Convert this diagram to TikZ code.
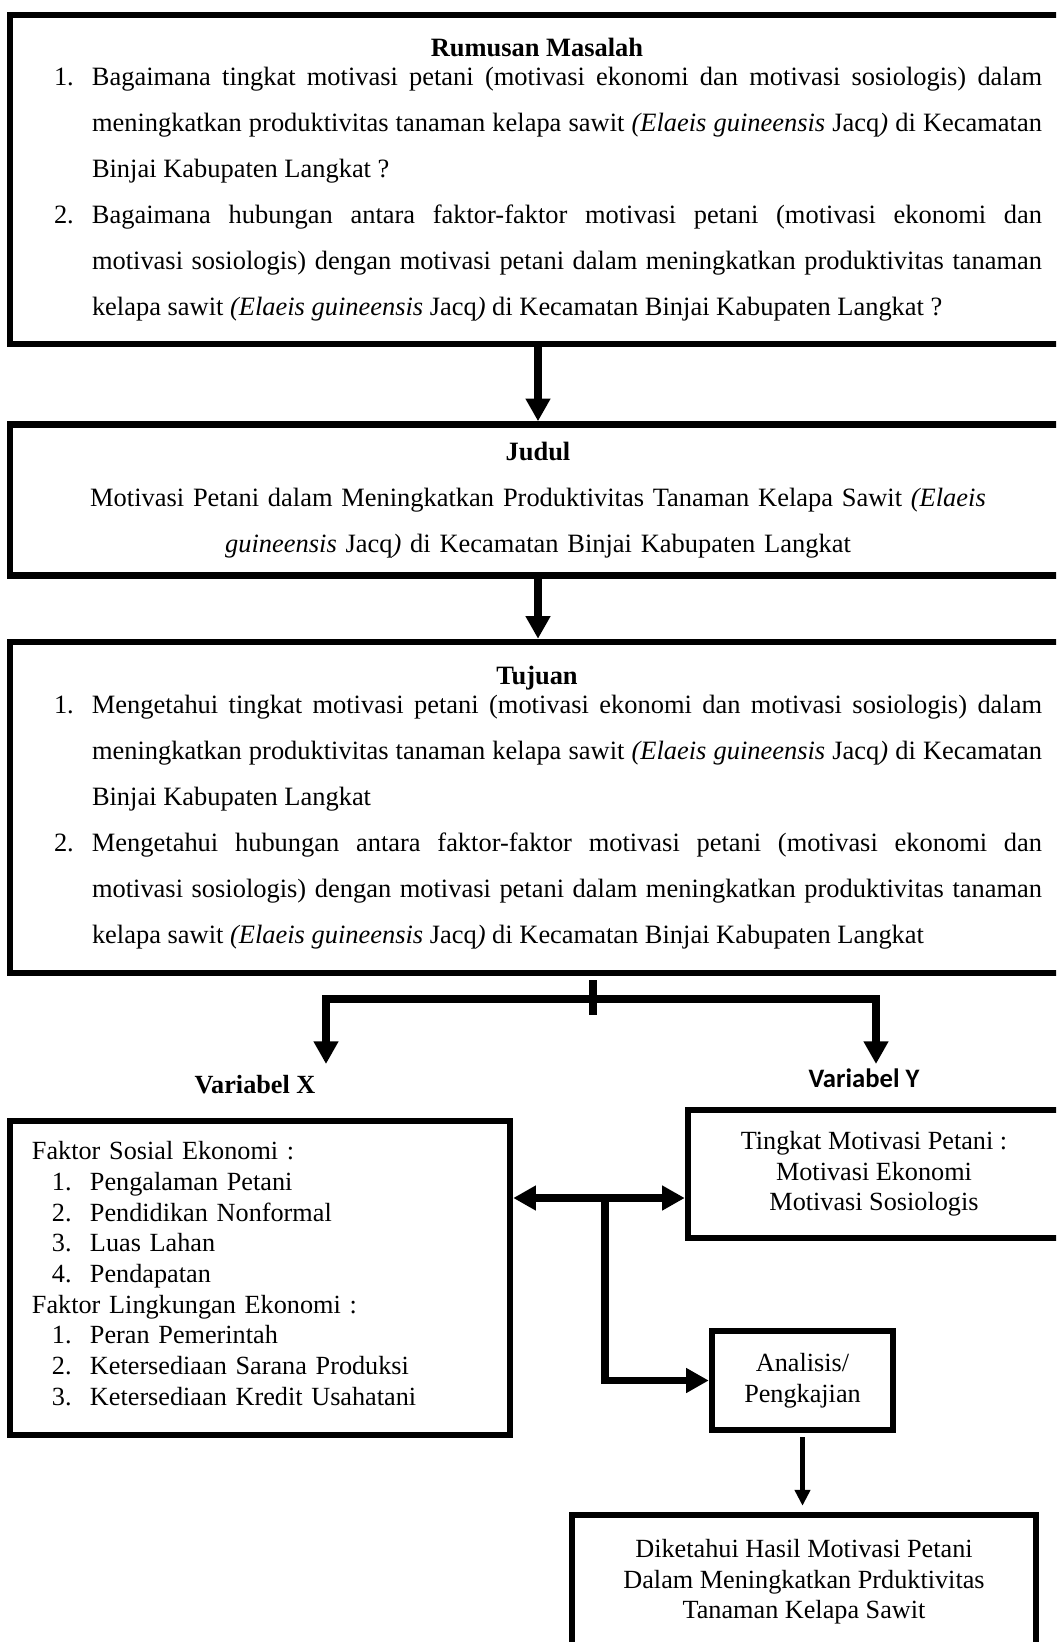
\documentclass[tikz,border=0pt]{standalone}
\usepackage{fontspec}
\setmainfont{Liberation Serif}
\newfontfamily\calibri{Carlito}
\usetikzlibrary{arrows.meta}

\newlength\pxu
\setlength\pxu{0.45pt}
\newcommand{\kepala}[1]{\makebox[\linewidth]{\bfseries #1\hspace{22\pxu}}\par\vspace{-7.5pt}}
\newcommand{\butir}[2]{\noindent\hangindent=38\pxu\hangafter=1\makebox[38\pxu][l]{#1}#2\par}
\newcommand{\poin}[2]{\hspace*{20\pxu}\makebox[38\pxu][l]{#1}#2}
\newcommand{\spesies}{\textit{(Elaeis guineensis} Jacq\textit{)}}

\begin{document}
\begin{tikzpicture}[
      x=0.45pt, y=-0.45pt,
      kotak/.style={draw, line width=2.9pt, inner sep=0pt, font=\fontsize{11.8}{13.8}\selectfont},
      kotakbesar/.style={kotak, align=justify, font=\fontsize{11.9}{20.7}\selectfont},
      panah/.style={line width=3.4pt, -{Triangle[length=10.2pt, width=10.6pt]}},
      panahdua/.style={line width=3.4pt, {Triangle[length=10.2pt, width=10.6pt]}-{Triangle[length=10.2pt, width=10.6pt]}},
      panahkecil/.style={line width=2.6pt, -{Triangle[length=7.2pt, width=6.8pt]}, shorten <=1.8pt, shorten >=2.7pt},
      garis/.style={line width=3.4pt}
    ]
    \useasboundingbox (0,0) rectangle (1056,1642);
    \clip (0,0) rectangle (1056,1642);

    % Nodes
    \node[kotakbesar, minimum width=1076\pxu, minimum height=329\pxu, text width=988\pxu] (rumusan) at (548,179.5) {%
      \kepala{Rumusan Masalah}
      \butir{1.}{Bagaimana tingkat motivasi petani (motivasi ekonomi dan motivasi sosiologis) dalam\linebreak meningkatkan produktivitas tanaman kelapa sawit \spesies{} di Kecamatan\linebreak Binjai Kabupaten Langkat ?}
      \butir{2.}{Bagaimana hubungan antara faktor-faktor motivasi petani (motivasi ekonomi dan\linebreak motivasi sosiologis) dengan motivasi petani dalam meningkatkan produktivitas tanaman\linebreak kelapa sawit \spesies{} di Kecamatan Binjai Kabupaten Langkat ?}};

    \node[kotakbesar, align=center, minimum width=1056\pxu, minimum height=151\pxu, text width=960\pxu] (judul) at (538,500) {%
      \textbf{Judul}\\
      Motivasi Petani dalam Meningkatkan Produktivitas Tanaman Kelapa Sawit \textit{(Elaeis}\\
      \textit{guineensis} Jacq\textit{)} di Kecamatan Binjai Kabupaten Langkat};

    \node[kotakbesar, minimum width=1076\pxu, minimum height=331\pxu, text width=988\pxu] (tujuan) at (548,807.5) {%
      \kepala{Tujuan}
      \butir{1.}{Mengetahui tingkat motivasi petani (motivasi ekonomi dan motivasi sosiologis) dalam\linebreak meningkatkan produktivitas tanaman kelapa sawit \spesies{} di Kecamatan\linebreak Binjai Kabupaten Langkat}
      \butir{2.}{Mengetahui hubungan antara faktor-faktor motivasi petani (motivasi ekonomi dan\linebreak motivasi sosiologis) dengan motivasi petani dalam meningkatkan produktivitas tanaman\linebreak kelapa sawit \spesies{} di Kecamatan Binjai Kabupaten Langkat}};

    \node[font=\fontsize{11.8}{13.8}\selectfont\bfseries] (labelx) at (255,1085) {Variabel X};
    \node[font=\calibri\bfseries\fontsize{12}{14}\selectfont] (labely) at (864,1078) {Variabel Y};

    \node[kotak, align=left, minimum width=500\pxu, minimum height=314\pxu, text width=456\pxu] (faktorx) at (260,1278) {%
      Faktor Sosial Ekonomi :\\
      \poin{1.}{Pengalaman Petani}\\
      \poin{2.}{Pendidikan Nonformal}\\
      \poin{3.}{Luas Lahan}\\
      \poin{4.}{Pendapatan}\\
      Faktor Lingkungan Ekonomi :\\
      \poin{1.}{Peran Pemerintah}\\
      \poin{2.}{Ketersediaan Sarana Produksi}\\
      \poin{3.}{Ketersediaan Kredit Usahatani}\strut};

    \node[kotak, align=center, minimum width=372\pxu, minimum height=128\pxu] (tingkaty) at (874,1174) {Tingkat Motivasi Petani :\\Motivasi Ekonomi\\Motivasi Sosiologis};
    \node[kotak, align=center, minimum width=181\pxu, minimum height=99\pxu] (analisis) at (802.5,1380.5) {Analisis/\\Pengkajian};
    \node[kotak, align=center, minimum width=464\pxu, minimum height=134\pxu] (hasil) at (804,1582) {Diketahui Hasil Motivasi Petani\\Dalam Meningkatkan Prduktivitas\\Tanaman Kelapa Sawit};

    \coordinate (tickatas) at (593,980);
    \coordinate (tickbawah) at (593,1015);
    \coordinate (cabang) at (593,999);
    \coordinate (ujungx) at (326,1064);
    \coordinate (ujungy) at (876,1064);
    \coordinate (simpul) at (605,1198);

    % Edges
    \draw[panah] (rumusan.south -| judul.north) -- (judul.north);
    \draw[panah] (judul.south) -- (tujuan.north -| judul.south);
    \draw[garis] (tickatas) -- (tickbawah);
    \draw[panahdua] (ujungx) |- (cabang) -| (ujungy);
    \draw[panahdua] (faktorx.east |- simpul) -- (tingkaty.west |- simpul);
    \draw[panah] (simpul) |- (analisis.west);
    \draw[panahkecil] (analisis.south) -- (analisis.south |- hasil.north);
  \end{tikzpicture}
\end{document}
